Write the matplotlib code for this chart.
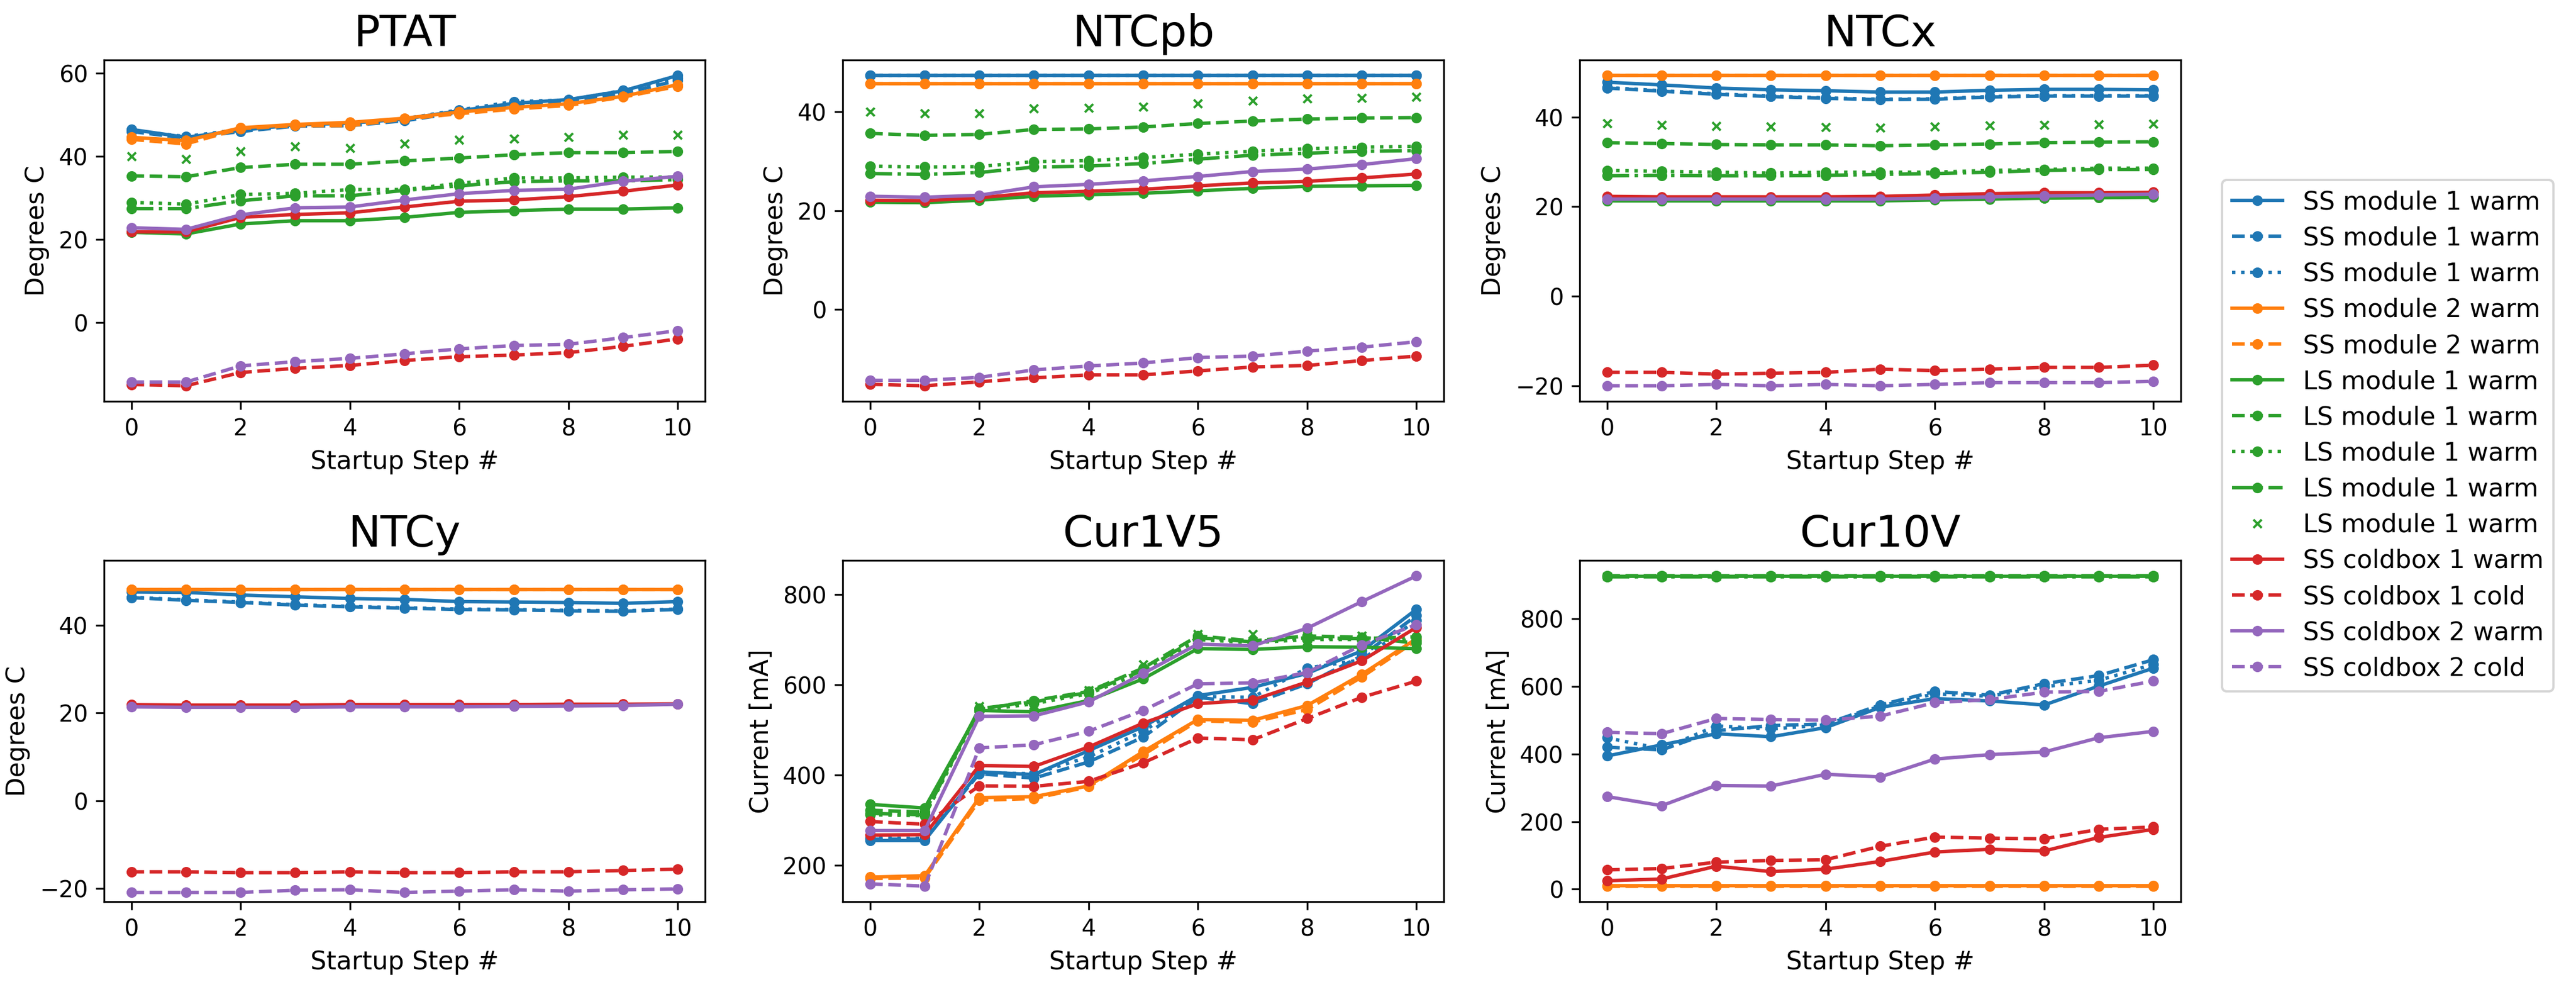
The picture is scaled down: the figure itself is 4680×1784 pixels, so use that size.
import numpy as np
import matplotlib
matplotlib.use("Agg")
import matplotlib.pyplot as plt
from matplotlib.ticker import MultipleLocator

steps = list(range(11))

labels = [
    "SS module 1 warm", "SS module 1 warm", "SS module 1 warm",
    "SS module 2 warm", "SS module 2 warm",
    "LS module 1 warm", "LS module 1 warm", "LS module 1 warm",
    "LS module 1 warm", "LS module 1 warm",
    "SS coldbox 1 warm", "SS coldbox 1 cold",
    "SS coldbox 2 warm", "SS coldbox 2 cold",
]

panel_titles = ["PTAT", "NTCpb", "NTCx", "NTCy", "Cur1V5", "Cur10V"]
panel_ylabels = ["Degrees C", "Degrees C", "Degrees C", "Degrees C",
                 "Current [mA]", "Current [mA]"]

nan = np.nan
NO_DATA = [nan] * 11

# one row per series, in legend order
ptat = [
    [46.5, 44.6, 46.3, 47.6, 48.0, 49.0, 51.0, 52.8, 53.7, 55.8, 59.5],
    [46.0, 44.4, 46.0, 47.3, 47.4, 48.6, 50.6, 52.3, 53.2, 55.2, 58.3],
    [46.2, 44.8, 46.5, 47.6, 47.9, 49.1, 51.2, 53.2, 53.6, 55.9, 58.8],
    [44.6, 43.8, 46.9, 47.7, 48.2, 49.2, 50.7, 51.8, 52.7, 54.5, 57.3],
    [44.1, 43.0, 46.7, 47.4, 47.4, 49.0, 50.3, 51.4, 52.3, 54.3, 56.9],
    [21.7, 21.3, 23.7, 24.5, 24.5, 25.3, 26.5, 26.9, 27.3, 27.3, 27.6],
    [35.3, 35.1, 37.3, 38.1, 38.1, 38.9, 39.6, 40.4, 40.9, 40.9, 41.2],
    [28.9, 28.5, 30.8, 31.1, 32.0, 32.0, 33.5, 34.8, 34.8, 35.0, 35.0],
    [27.4, 27.4, 29.3, 30.5, 30.5, 31.8, 32.9, 33.9, 34.1, 34.1, 34.4],
    [40.0, 39.3, 41.2, 42.4, 42.0, 43.1, 44.0, 44.3, 44.7, 45.2, 45.2],
    [21.8, 21.8, 25.3, 26.0, 26.4, 27.8, 29.2, 29.5, 30.3, 31.6, 33.1],
    [-15.0, -15.3, -12.1, -11.1, -10.4, -9.2, -8.3, -7.9, -7.3, -5.8, -4.0],
    [22.8, 22.4, 25.9, 27.6, 27.8, 29.5, 31.0, 31.8, 32.1, 34.0, 35.2],
    [-14.4, -14.4, -10.5, -9.5, -8.7, -7.6, -6.4, -5.6, -5.3, -3.7, -2.0],
]

ntcpb = [
    [47.3, 47.3, 47.3, 47.3, 47.3, 47.3, 47.3, 47.3, 47.3, 47.3, 47.3],
    [47.3, 47.3, 47.3, 47.3, 47.3, 47.3, 47.3, 47.3, 47.3, 47.3, 47.3],
    [47.3, 47.3, 47.3, 47.3, 47.3, 47.3, 47.3, 47.3, 47.3, 47.3, 47.3],
    [45.6, 45.6, 45.6, 45.6, 45.6, 45.6, 45.6, 45.6, 45.6, 45.6, 45.6],
    [45.6, 45.6, 45.6, 45.6, 45.6, 45.6, 45.6, 45.6, 45.6, 45.6, 45.6],
    [21.7, 21.6, 22.1, 22.9, 23.2, 23.5, 24.0, 24.5, 24.9, 25.0, 25.1],
    [35.6, 35.2, 35.4, 36.4, 36.5, 36.9, 37.6, 38.1, 38.5, 38.7, 38.8],
    [29.0, 28.8, 28.9, 29.9, 30.1, 30.7, 31.4, 32.0, 32.5, 32.8, 33.0],
    [27.5, 27.3, 27.7, 28.8, 29.0, 29.5, 30.4, 31.2, 31.6, 32.0, 32.1],
    [40.0, 39.6, 39.6, 40.6, 40.8, 41.0, 41.7, 42.2, 42.7, 42.8, 43.0],
    [22.1, 22.0, 22.6, 23.6, 23.9, 24.3, 25.0, 25.6, 25.9, 26.6, 27.4],
    [-15.1, -15.4, -14.6, -13.8, -13.2, -13.2, -12.4, -11.6, -11.3, -10.3, -9.4],
    [22.9, 22.7, 23.1, 24.8, 25.3, 26.0, 26.9, 27.9, 28.4, 29.3, 30.5],
    [-14.3, -14.3, -13.7, -12.2, -11.4, -10.8, -9.7, -9.4, -8.4, -7.6, -6.5],
]

ntcx = [
    [47.8, 47.2, 46.5, 46.1, 45.9, 45.6, 45.6, 46.0, 46.2, 46.2, 46.1],
    [46.5, 45.8, 45.1, 44.6, 44.2, 43.9, 44.0, 44.5, 44.7, 44.7, 44.7],
    [46.6, 45.9, 45.2, 44.7, 44.3, 44.0, 44.1, 44.6, 44.8, 44.8, 44.8],
    [49.3, 49.3, 49.3, 49.3, 49.3, 49.3, 49.3, 49.3, 49.3, 49.3, 49.3],
    [49.3, 49.3, 49.3, 49.3, 49.3, 49.3, 49.3, 49.3, 49.3, 49.3, 49.3],
    [21.3, 21.3, 21.3, 21.3, 21.3, 21.3, 21.5, 21.7, 21.9, 22.0, 22.1],
    [34.3, 34.1, 33.9, 33.8, 33.8, 33.6, 33.8, 34.0, 34.3, 34.4, 34.5],
    [28.1, 27.9, 27.7, 27.5, 27.7, 27.7, 27.7, 28.1, 28.3, 28.6, 28.6],
    [26.9, 27.0, 26.9, 26.9, 27.0, 27.2, 27.4, 27.7, 28.1, 28.3, 28.3],
    [38.6, 38.2, 38.0, 37.9, 37.8, 37.6, 37.9, 38.1, 38.2, 38.4, 38.5],
    [22.3, 22.2, 22.2, 22.2, 22.2, 22.3, 22.6, 22.9, 23.1, 23.1, 23.2],
    [-17.0, -17.0, -17.4, -17.2, -17.0, -16.3, -16.6, -16.3, -15.9, -15.9, -15.4],
    [21.7, 21.7, 21.7, 21.7, 21.7, 21.7, 21.9, 22.2, 22.4, 22.6, 22.8],
    [-20.0, -20.0, -19.7, -20.0, -19.7, -20.0, -19.7, -19.3, -19.3, -19.3, -19.0],
]

ntcy = [
    [47.6, 47.5, 46.9, 46.5, 46.1, 45.9, 45.4, 45.3, 45.2, 45.0, 45.4],
    [46.3, 45.7, 45.2, 44.6, 44.2, 43.9, 43.6, 43.5, 43.3, 43.2, 43.6],
    [46.4, 45.8, 45.3, 44.7, 44.3, 44.0, 43.7, 43.6, 43.4, 43.3, 43.7],
    [48.2, 48.2, 48.2, 48.2, 48.2, 48.2, 48.2, 48.2, 48.2, 48.2, 48.2],
    [48.2, 48.2, 48.2, 48.2, 48.2, 48.2, 48.2, 48.2, 48.2, 48.2, 48.2],
    NO_DATA, NO_DATA, NO_DATA, NO_DATA, NO_DATA,
    [21.9, 21.8, 21.8, 21.8, 21.9, 21.9, 21.9, 21.9, 22.0, 22.0, 22.1],
    [-16.2, -16.2, -16.4, -16.4, -16.2, -16.4, -16.4, -16.2, -16.2, -15.9, -15.6],
    [21.4, 21.3, 21.3, 21.3, 21.4, 21.4, 21.4, 21.5, 21.6, 21.7, 22.0],
    [-20.9, -20.9, -20.9, -20.4, -20.3, -20.9, -20.6, -20.3, -20.6, -20.3, -20.1],
]

cur1v5 = [
    [255, 255, 407, 401, 454, 507, 576, 594, 625, 675, 767],
    [258, 258, 403, 393, 429, 484, 572, 558, 602, 664, 753],
    [260, 260, 405, 403, 440, 497, 574, 572, 637, 655, 743],
    [174, 177, 350, 352, 376, 452, 523, 521, 554, 623, 702],
    [171, 172, 344, 348, 374, 445, 520, 517, 545, 617, 698],
    [335, 327, 543, 540, 565, 613, 680, 678, 684, 683, 680],
    [322, 318, 545, 565, 585, 637, 708, 697, 708, 705, 692],
    [312, 310, 543, 558, 580, 628, 700, 693, 700, 700, 698],
    [315, 312, 547, 562, 583, 632, 704, 695, 704, 702, 706],
    [318, 315, 552, 555, 588, 645, 712, 712, 710, 708, 700],
    [267, 268, 421, 419, 462, 515, 558, 566, 606, 653, 727],
    [297, 291, 376, 375, 386, 427, 482, 478, 525, 572, 608],
    [277, 277, 530, 531, 562, 625, 690, 686, 725, 784, 841],
    [159, 154, 460, 467, 497, 543, 602, 604, 627, 688, 733],
]

cur10v = [
    [394, 427, 460, 451, 478, 538, 564, 557, 545, 601, 654],
    [420, 412, 469, 484, 489, 545, 585, 574, 608, 632, 679],
    [448, 415, 483, 474, 486, 542, 578, 571, 599, 618, 665],
    [10, 10, 10, 10, 10, 10, 10, 10, 10, 10, 10],
    [9, 9, 9, 9, 9, 9, 9, 9, 9, 9, 9],
    [925, 925, 925, 925, 925, 925, 925, 925, 925, 925, 925],
    [927, 927, 927, 927, 927, 927, 927, 927, 927, 927, 927],
    [926, 926, 926, 926, 926, 926, 926, 926, 926, 926, 926],
    [924, 924, 924, 924, 924, 924, 924, 924, 924, 924, 924],
    [926, 926, 926, 926, 926, 926, 926, 926, 926, 926, 926],
    [25, 30, 68, 52, 59, 82, 110, 118, 113, 153, 177],
    [57, 61, 80, 85, 87, 127, 154, 151, 149, 177, 184],
    [274, 247, 307, 305, 340, 332, 385, 398, 406, 448, 467],
    [464, 460, 505, 502, 500, 512, 552, 561, 583, 585, 616],
]

panels = [ptat, ntcpb, ntcx, ntcy, cur1v5, cur10v]

# line styles per series
C_BLUE, C_ORANGE, C_GREEN, C_RED, C_PURPLE = (
    "#1f77b4", "#ff7f0e", "#2ca02c", "#d62728", "#9467bd")
styles = [
    (C_BLUE, "-", "o"), (C_BLUE, "--", "o"), (C_BLUE, ":", "o"),
    (C_ORANGE, "-", "o"), (C_ORANGE, "--", "o"),
    (C_GREEN, "-", "o"), (C_GREEN, "--", "o"), (C_GREEN, ":", "o"),
    (C_GREEN, "-.", "o"), (C_GREEN, "none", "x"),
    (C_RED, "-", "o"), (C_RED, "--", "o"),
    (C_PURPLE, "-", "o"), (C_PURPLE, "--", "o"),
]

W, H = 4680, 1784
fig = plt.figure(figsize=(W / 300, H / 300), dpi=300)

col_left = [189, 1531, 2870]
row_top = [109, 1018]
ax_w, ax_h = 1092, 620

axes = []
for i, (title, ylabel, data) in enumerate(zip(panel_titles, panel_ylabels, panels)):
    r, c = divmod(i, 3)
    left = col_left[c] / W
    bottom = 1 - (row_top[r] + ax_h) / H
    ax = fig.add_axes([left, bottom, ax_w / W, ax_h / H])
    for series, (color, ls, mk) in zip(data, styles):
        ax.plot(steps, series, color=color, linestyle=ls, marker=mk,
                markersize=3.6, linewidth=1.5)
    ax.set_title(title, fontsize=19)
    ax.set_xlabel("Startup Step #", fontsize=11)
    ax.set_ylabel(ylabel, fontsize=11)
    ax.tick_params(labelsize=10)
    ax.set_xticks([0, 2, 4, 6, 8, 10])
    if ylabel == "Degrees C":
        ax.yaxis.set_major_locator(MultipleLocator(20))
    axes.append(ax)

axes[3].set_ylim(-23.0, 54.8)

handles = axes[0].get_lines()
fig.legend(handles, labels, loc="upper left",
           bbox_to_anchor=(4037 / W, 1 - 327 / H), borderaxespad=0,
           fontsize=11, labelspacing=0.44)

fig.savefig("out.png", dpi=300)
